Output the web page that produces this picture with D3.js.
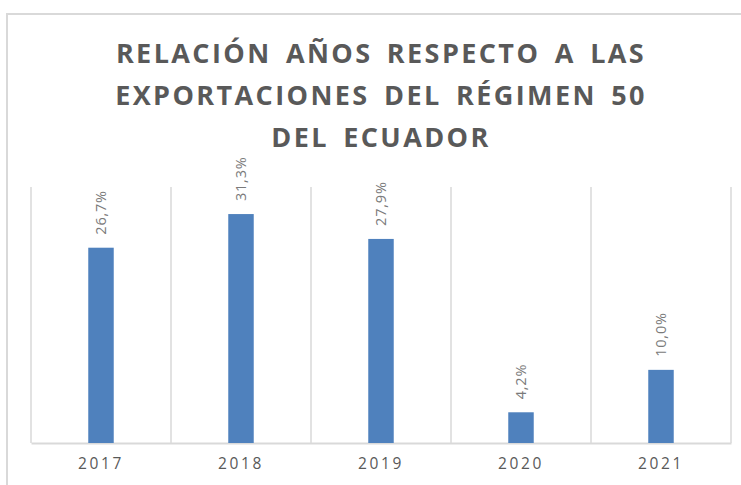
<!DOCTYPE html>
<html>
<head>
<meta charset="utf-8">
<script src="https://cdn.jsdelivr.net/npm/d3@7"></script>
<style>
  body { margin: 0; background: #fff; }
  svg { display: block; }
</style>
</head>
<body>
<div id="chart"></div>
<script>
const years = ["2017", "2018", "2019", "2020", "2021"];
const values = [26.7, 31.3, 27.9, 4.2, 10.0];
const titleLines = [
    "RELACIÓN AÑOS RESPECTO A LAS",
    "EXPORTACIONES DEL RÉGIMEN 50",
    "DEL ECUADOR"
];

const width = 741, height = 485;
const margin = { top: 187, right: 10, bottom: 42, left: 31 };

const svg = d3.select("#chart")
    .append("svg")
    .attr("width", width)
    .attr("height", height);

// chart frame (runs off to the right and bottom)
svg.append("rect")
    .attr("x", 7)
    .attr("y", 14)
    .attr("width", 760)
    .attr("height", 500)
    .attr("fill", "none")
    .attr("stroke", "#d9d9d9")
    .attr("stroke-width", 2);

// title
svg.append("g")
    .selectAll("text")
    .data(titleLines)
    .enter()
    .append("text")
    .attr("x", 381)
    .attr("y", (d, i) => 63 + i * 42)
    .attr("text-anchor", "middle")
    .attr("font-family", "Open Sans")
    .attr("font-weight", "bold")
    .attr("font-size", 27)
    .attr("letter-spacing", "2.4px")
    .attr("word-spacing", "5px")
    .attr("fill", "#595959")
    .text(d => d);

const x = d3.scaleBand()
    .domain(years)
    .range([margin.left, width - margin.right])
    .padding(0);

const y = d3.scaleLinear()
    .domain([0, 35])
    .range([height - margin.bottom, margin.top]);

// vertical gridlines at category boundaries
const bounds = years.map(d => x(d)).concat([x.range()[1]]);
svg.append("g")
    .selectAll("line")
    .data(bounds)
    .enter()
    .append("line")
    .attr("x1", d => d)
    .attr("x2", d => d)
    .attr("y1", y(35))
    .attr("y2", y(0))
    .attr("stroke", "#d9d9d9")
    .attr("stroke-width", 1.5);

// x axis
const xAxis = d3.axisBottom(x).tickSize(0).tickPadding(15).tickSizeOuter(0);
const gx = svg.append("g")
    .attr("class", "axis x-axis")
    .attr("transform", `translate(0,${y(0)})`)
    .call(xAxis);
gx.select(".domain").attr("stroke", "#d9d9d9").attr("stroke-width", 2);
gx.selectAll("text")
    .attr("font-family", "Open Sans")
    .attr("font-size", 15.5)
    .attr("letter-spacing", "2.6px")
    .attr("fill", "#595959");

// bars
const barW = x.bandwidth() * 0.182;
svg.append("g")
    .selectAll("rect")
    .data(values)
    .enter()
    .append("rect")
    .attr("x", (d, i) => x(years[i]) + x.bandwidth() / 2 - barW / 2)
    .attr("y", d => y(d))
    .attr("width", barW)
    .attr("height", d => y(0) - y(d))
    .attr("fill", "#4f81bd");

// value labels, rotated
svg.append("g")
    .selectAll("text")
    .data(values)
    .enter()
    .append("text")
    .attr("transform", (d, i) =>
        `translate(${x(years[i]) + x.bandwidth() / 2},${y(d) - 13}) rotate(-90)`)
    .attr("dy", "0.35em")
    .attr("text-anchor", "start")
    .attr("font-family", "Open Sans")
    .attr("font-size", 14.5)
    .attr("letter-spacing", "0.8px")
    .attr("fill", "#7a7a7a")
    .text(d => d.toFixed(1).replace(".", ",") + "%");
</script>
</body>
</html>
